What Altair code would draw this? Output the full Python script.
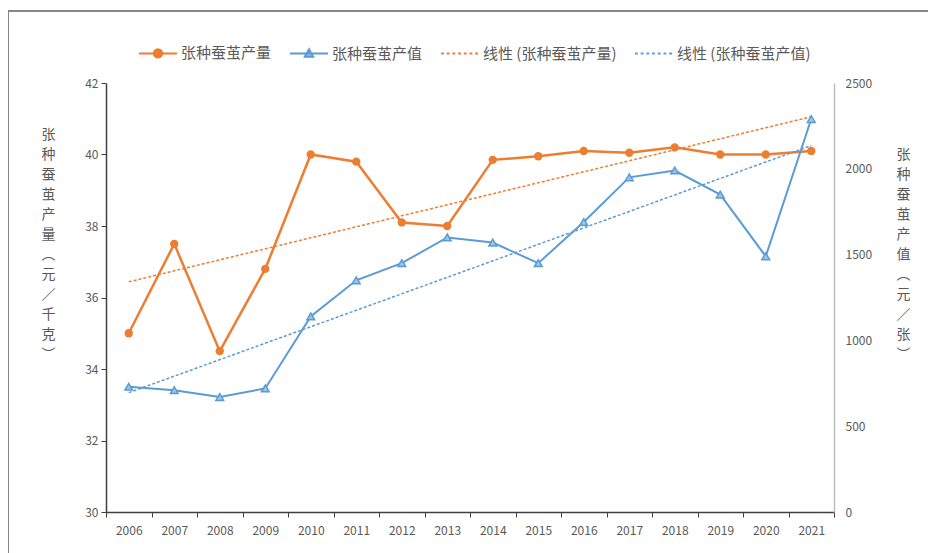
import altair as alt
import pandas as pd

years = [2006, 2007, 2008, 2009, 2010, 2011, 2012, 2013, 2014, 2015, 2016, 2017, 2018, 2019, 2020, 2021]
yield_vals = [35.0, 37.5, 34.5, 36.8, 40.0, 39.8, 38.1, 38.0, 39.85, 39.95, 40.1, 40.05, 40.2, 40.0, 40.0, 40.1]
value_vals = [730, 710, 670, 720, 1140, 1350, 1450, 1600, 1570, 1450, 1690, 1950, 1990, 1850, 1490, 2290]

left_ticks = [30, 32, 34, 36, 38, 40, 42]
right_ticks = [0, 500, 1000, 1500, 2000, 2500]

series_names = ["张种蚕茧产量", "张种蚕茧产值", "线性 (张种蚕茧产量)", "线性 (张种蚕茧产值)"]
left_title = ["张", "种", "蚕", "茧", "产", "量", "︵", "元", "／", "千", "克", "︶"]
right_title = ["张", "种", "蚕", "茧", "产", "值", "︵", "元", "／", "张", "︶"]

ORANGE = "#ED7D31"
BLUE = "#5B9BD5"
BLUE_FILL = "#9DC3E6"
GRAY = "#595959"
FONT = "Noto Sans CJK SC"

df = pd.DataFrame({"year": years, "yield": yield_vals, "value": value_vals})
legend_df = pd.DataFrame({"series": series_names})

W, H = 728, 429

xenc = alt.X(
    "year:O",
    scale=alt.Scale(type="band", paddingInner=0, paddingOuter=0),
    axis=alt.Axis(
        title=None, labelAngle=0, tickBand="extent", tickSize=5, tickColor="#404040",
        domainColor="#404040", domainWidth=1.5, labelColor=GRAY, labelFontSize=12,
        labelPadding=8, labelFont=FONT,
    ),
)

base = alt.Chart(df)

yl = alt.Y(
    "yield:Q",
    scale=alt.Scale(domain=[30, 42], nice=False, zero=False),
    axis=alt.Axis(
        values=left_ticks, grid=False, tickSize=5, tickColor="#404040",
        domainColor="#404040", domainWidth=1.5, labelColor=GRAY, labelFontSize=12,
        labelFont=FONT, labelPadding=3,
        title=left_title, titleAngle=0, titleAlign="center", titleBaseline="top",
        titleX=-58, titleY=44, titleLineHeight=20, titleFontSize=14,
        titleFontWeight="normal", titleColor=GRAY, titleFont=FONT,
    ),
)

orange_line = base.mark_line(color=ORANGE, strokeWidth=2.5).encode(x=xenc, y=yl)
orange_pts = base.mark_point(filled=True, color=ORANGE, size=70, opacity=1).encode(x=xenc, y=yl)
orange_trend = base.transform_regression("year", "yield").mark_line(
    color=ORANGE, strokeWidth=1.5, strokeDash=[3, 2]
).encode(x=xenc, y=yl)

yr = alt.Y(
    "value:Q",
    scale=alt.Scale(domain=[0, 2500], nice=False),
    axis=alt.Axis(
        orient="right", values=right_ticks, format="d", grid=False, ticks=False,
        domainColor="#bfbfbf", domainWidth=1.5, labelColor=GRAY, labelFontSize=12,
        labelFont=FONT, labelPadding=11,
        title=right_title, titleAngle=0, titleAlign="center", titleBaseline="top",
        titleX=69, titleY=64, titleLineHeight=20, titleFontSize=14,
        titleFontWeight="normal", titleColor=GRAY, titleFont=FONT,
    ),
)

blue_line = base.mark_line(color=BLUE, strokeWidth=2).encode(x=xenc, y=yr)
blue_pts = base.mark_point(
    shape="triangle-up", filled=True, fill=BLUE_FILL, stroke=BLUE, strokeWidth=1.5, size=60, opacity=1
).encode(x=xenc, y=yr)
blue_trend = base.transform_regression("year", "value").mark_line(
    color=BLUE, strokeWidth=1.5, strokeDash=[3, 2]
).encode(x=xenc, y=yr)

left = alt.layer(orange_trend, orange_line, orange_pts)
right = alt.layer(blue_trend, blue_line, blue_pts)

path_circle = "M-1,0H1M0.22,0A0.22,0.22,0,1,1,-0.22,0A0.22,0.22,0,1,1,0.22,0Z"
path_tri = "M-1,0H1M0,-0.22L0.22,0.17L-0.22,0.17Z"
path_dots = "M-1,0H-0.85M-0.7,0H-0.55M-0.4,0H-0.25M-0.1,0H0.05M0.2,0H0.35M0.5,0H0.65M0.8,0H0.95"

leg = alt.Legend(
    title=None, orient="none", legendX=32, legendY=-50, direction="horizontal",
    symbolSize=1444, symbolStrokeWidth=2, labelFontSize=15, labelColor=GRAY,
    labelFont=FONT, labelOffset=3, columnPadding=14, padding=0, symbolOpacity=1,
)

legend_layer = alt.Chart(legend_df).transform_filter("false").mark_point(filled=True).encode(
    x=alt.value(0), y=alt.value(0),
    shape=alt.Shape("series:N", scale=alt.Scale(domain=series_names, range=[path_circle, path_tri, path_dots, path_dots]), legend=leg),
    stroke=alt.Stroke("series:N", scale=alt.Scale(domain=series_names, range=[ORANGE, BLUE, ORANGE, BLUE]), legend=leg),
    fill=alt.Fill("series:N", scale=alt.Scale(domain=series_names, range=[ORANGE, BLUE_FILL, ORANGE, BLUE]), legend=leg),
)

frame = alt.Chart(legend_df).mark_rect(filled=False, stroke="#7f7f7f", strokeWidth=1).encode(
    x=alt.value(-98), x2=alt.value(840), y=alt.value(-72), y2=alt.value(480)
)

chart = alt.layer(frame, left, right, legend_layer).resolve_scale(y="independent").properties(
    width=W, height=H,
    background="white",
    autosize=alt.AutoSizeParams(type="none"),
    padding={"left": 98, "top": 75, "right": 94, "bottom": 41},
).configure_view(stroke=None)

chart.save("out.html", embed_options={"renderer": "svg", "actions": False})
